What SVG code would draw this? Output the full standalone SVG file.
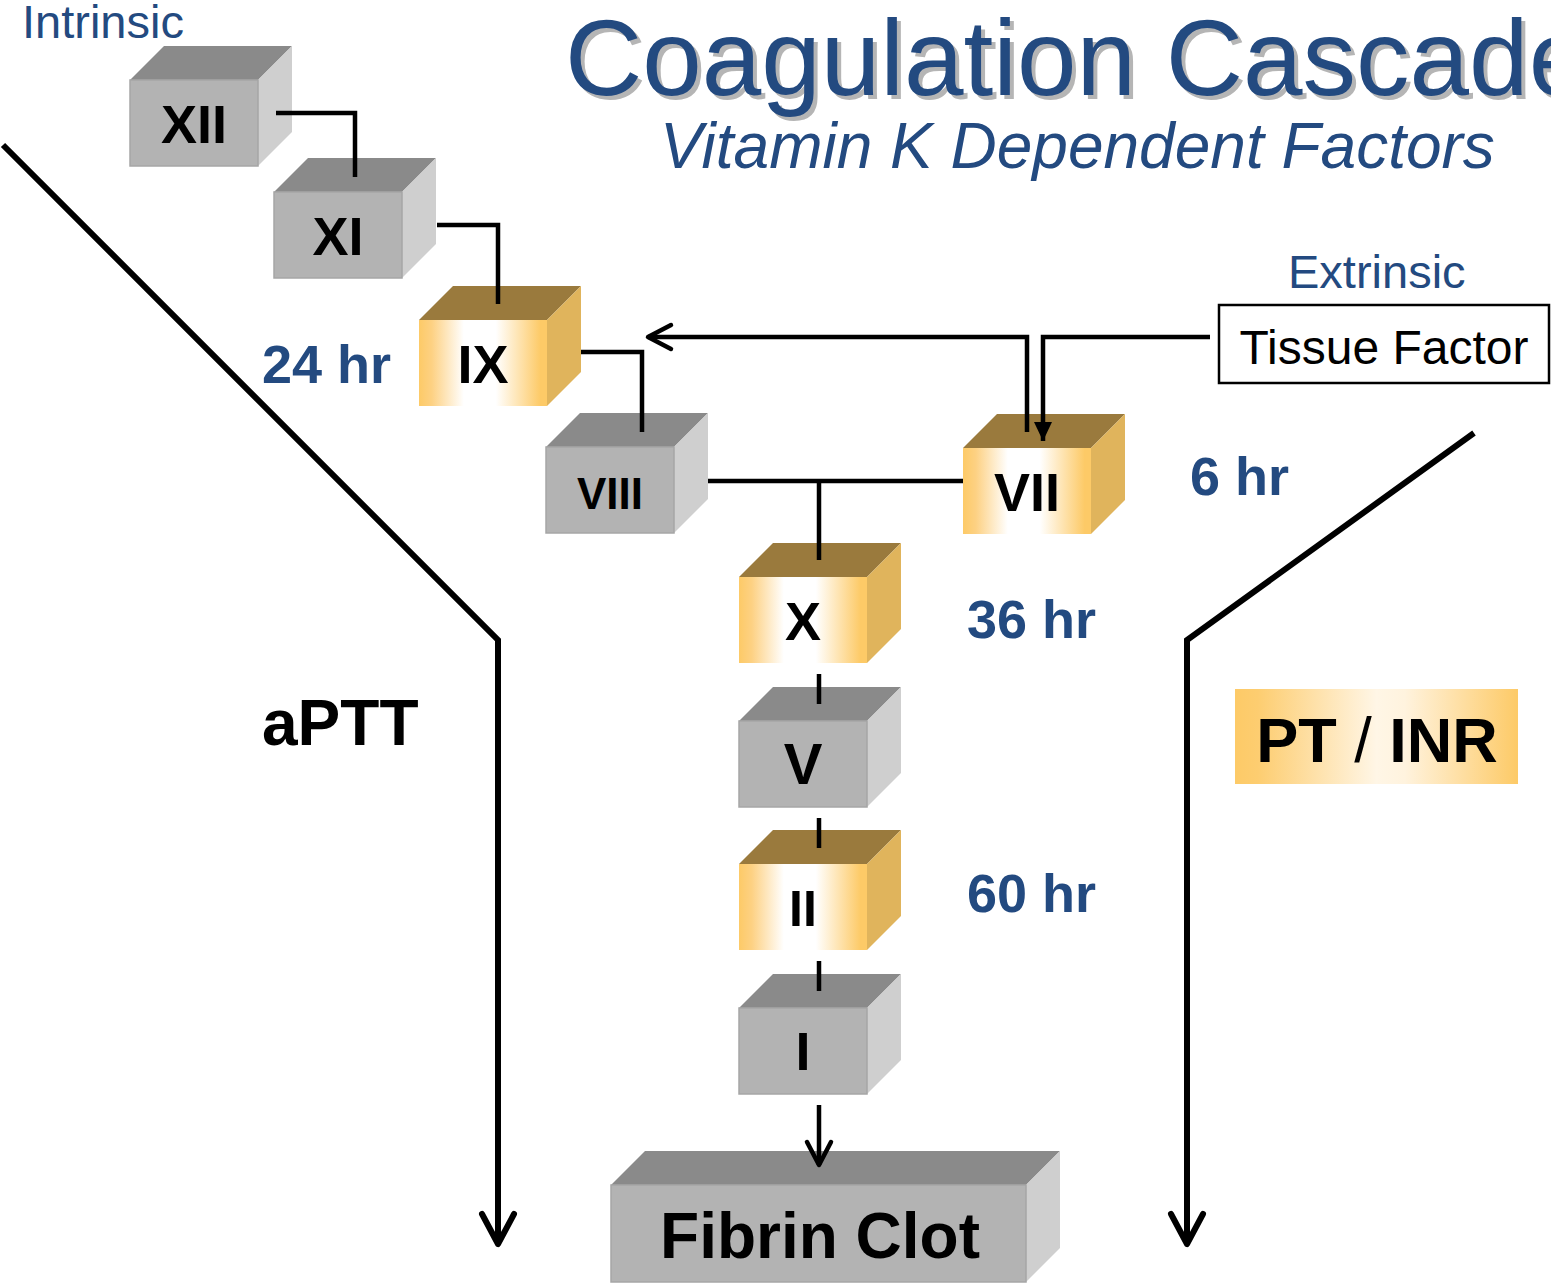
<svg xmlns="http://www.w3.org/2000/svg" xmlns:xlink="http://www.w3.org/1999/xlink" width="1551" height="1286" viewBox="0 0 1551 1286">
  <style>
    .lbl { font-family: "Liberation Sans", Arial, sans-serif; font-weight: bold; fill: #000; text-anchor: middle; }
    .blue { font-family: "Liberation Sans", Arial, sans-serif; fill: #234a80; }
    .hr { font-family: "Liberation Sans", Arial, sans-serif; font-weight: bold; fill: #234a80; font-size: 54px; }
    .wire { fill: none; stroke: #000; stroke-width: 4.5; }
    .big { fill: none; stroke: #000; stroke-width: 6; }
  </style>
  <defs>
    <linearGradient id="goldFace" x1="0" y1="0" x2="1" y2="0">
      <stop offset="0" stop-color="#fdca67"/>
      <stop offset="0.1" stop-color="#fdd183"/>
      <stop offset="0.35" stop-color="#ffffff"/>
      <stop offset="0.6" stop-color="#ffffff"/>
      <stop offset="0.95" stop-color="#fdca67"/>
      <stop offset="1" stop-color="#fdca67"/>
    </linearGradient>
    <linearGradient id="goldBand" x1="0" y1="0" x2="1" y2="0">
      <stop offset="0" stop-color="#fdca67"/>
      <stop offset="0.08" stop-color="#fdcd70"/>
      <stop offset="0.5" stop-color="#fff6e6"/>
      <stop offset="0.6" stop-color="#fff3de"/>
      <stop offset="1" stop-color="#fdca67"/>
    </linearGradient>
    <!-- standard cube: front face 128 x 86, depth 34 -->
    <g id="grayCube">
      <path d="M0 0 L34 -34 L162 -34 L128 0 Z" fill="#8a8a8a"/>
      <path d="M128 0 L162 -34 L162 52 L128 86 Z" fill="#cfcfcf"/>
      <rect x="0" y="0" width="128" height="86" fill="#b3b3b3" stroke="#a6a6a6" stroke-width="1.5"/>
    </g>
    <g id="goldCube">
      <path d="M0 0 L34 -34 L162 -34 L128 0 Z" fill="#9a7a3d"/>
      <path d="M128 0 L162 -34 L162 52 L128 86 Z" fill="#e0b45c"/>
      <rect x="0" y="0" width="128" height="86" fill="url(#goldFace)"/>
    </g>
    <marker id="chevBig" markerUnits="userSpaceOnUse" viewBox="-36 -20 40 40" markerWidth="40" markerHeight="40" refX="0" refY="0" orient="auto" overflow="visible">
      <path d="M-30 -16 L0 0 L-30 16" fill="none" stroke="#000" stroke-width="6" stroke-linecap="round" stroke-linejoin="round"/>
    </marker>
    <marker id="chevSmall" markerUnits="userSpaceOnUse" viewBox="-28 -16 32 32" markerWidth="32" markerHeight="32" refX="0" refY="0" orient="auto" overflow="visible">
      <path d="M-23 -12 L0 0 L-23 12" fill="none" stroke="#000" stroke-width="4.5" stroke-linecap="round" stroke-linejoin="round"/>
    </marker>
    <marker id="solidHead" markerUnits="userSpaceOnUse" viewBox="-22 -12 24 24" markerWidth="24" markerHeight="24" refX="0" refY="0" orient="auto" overflow="visible">
      <path d="M-19 -9 L0 0 L-19 9 Z" fill="#000"/>
    </marker>
  </defs>

  <!-- heading -->
  <g id="title">
    <text x="569" y="99" class="blue" font-size="107" style="fill:#b5b5b5">Coagulation Cascade</text>
    <text x="565" y="95" class="blue" font-size="107">Coagulation Cascade</text>
    <text x="660" y="168" class="blue" font-size="64" font-style="italic">Vitamin K Dependent Factors</text>
  </g>

  <text id="intrinsic" x="22" y="38" class="blue" font-size="47">Intrinsic</text>
  <text id="extrinsic" x="1288" y="288" class="blue" font-size="47">Extrinsic</text>

  <g id="tissue-factor">
    <rect x="1219" y="305" width="330" height="78" fill="#fff" stroke="#000" stroke-width="2.5"/>
    <text x="1384" y="364" font-family="Liberation Sans, Arial, sans-serif" font-size="48" text-anchor="middle" fill="#000">Tissue Factor</text>
  </g>

  <g id="factor-XII">
    <use xlink:href="#grayCube" x="130" y="80"/>
    <text x="194" y="143" class="lbl" font-size="54">XII</text>
  </g>
  <g id="factor-XI">
    <use xlink:href="#grayCube" x="274" y="192"/>
    <text x="338" y="255" class="lbl" font-size="54">XI</text>
  </g>
  <g id="factor-IX">
    <use xlink:href="#goldCube" x="419" y="320"/>
    <text x="483" y="383" class="lbl" font-size="54">IX</text>
  </g>
  <g id="factor-VIII">
    <use xlink:href="#grayCube" x="546" y="447"/>
    <text x="610" y="509" class="lbl" font-size="44">VIII</text>
  </g>
  <g id="factor-VII">
    <use xlink:href="#goldCube" x="963" y="448"/>
    <text x="1027" y="511" class="lbl" font-size="54">VII</text>
  </g>
  <g id="factor-X">
    <use xlink:href="#goldCube" x="739" y="577"/>
    <text x="803" y="640" class="lbl" font-size="54">X</text>
  </g>
  <g id="factor-V">
    <use xlink:href="#grayCube" x="739" y="721"/>
    <text x="803" y="784" class="lbl" font-size="58">V</text>
  </g>
  <g id="factor-II">
    <use xlink:href="#goldCube" x="739" y="864"/>
    <text x="803" y="926" class="lbl" font-size="50">II</text>
  </g>
  <g id="factor-I">
    <use xlink:href="#grayCube" x="739" y="1008"/>
    <text x="803" y="1070" class="lbl" font-size="54">I</text>
  </g>

  <g id="fibrin-clot">
    <path d="M611 1185 L645 1151 L1060 1151 L1026 1185 Z" fill="#8a8a8a"/>
    <path d="M1026 1185 L1060 1151 L1060 1248 L1026 1282 Z" fill="#cfcfcf"/>
    <rect x="611" y="1185" width="415" height="97" fill="#b3b3b3" stroke="#a6a6a6" stroke-width="1.5"/>
    <text x="820" y="1258" class="lbl" font-size="64">Fibrin Clot</text>
  </g>

  <!-- links drawn over the cube tops -->
  <g id="connectors">
    <path class="big" d="M3 145 L498 640 L498 1244" marker-end="url(#chevBig)"/>
    <path class="big" d="M1474 433 L1187 640 L1187 1244" marker-end="url(#chevBig)"/>

    <path class="wire" d="M276 113 H355 V177"/>
    <path class="wire" d="M437 225 H498 V304"/>
    <path class="wire" d="M581 352 H642 V432"/>
    <path class="wire" d="M1027 432 V337 H648" marker-end="url(#chevSmall)"/>
    <path class="wire" d="M1210 337 H1043 V441" marker-end="url(#solidHead)"/>
    <path class="wire" d="M708 481 H963"/>
    <path class="wire" d="M819 481 V560"/>
    <path class="wire" d="M819 674 V704"/>
    <path class="wire" d="M819 818 V848"/>
    <path class="wire" d="M819 961 V991"/>
    <path class="wire" d="M819 1105 V1165" marker-end="url(#chevSmall)"/>
  </g>

  <!-- half-life labels -->
  <text id="hr-24" x="262" y="383" class="hr">24 hr</text>
  <text id="hr-6" x="1190" y="495" class="hr">6 hr</text>
  <text id="hr-36" x="967" y="638" class="hr">36 hr</text>
  <text id="hr-60" x="967" y="912" class="hr">60 hr</text>

  <text id="aptt" x="262" y="745" font-family="Liberation Sans, Arial, sans-serif" font-weight="bold" font-size="64" fill="#000">aPTT</text>

  <g id="pt-inr">
    <rect x="1235" y="689" width="283" height="95" fill="url(#goldBand)"/>
    <text x="1377" y="762" class="lbl" font-size="63">PT <tspan font-weight="normal">/</tspan> INR</text>
  </g>
</svg>
